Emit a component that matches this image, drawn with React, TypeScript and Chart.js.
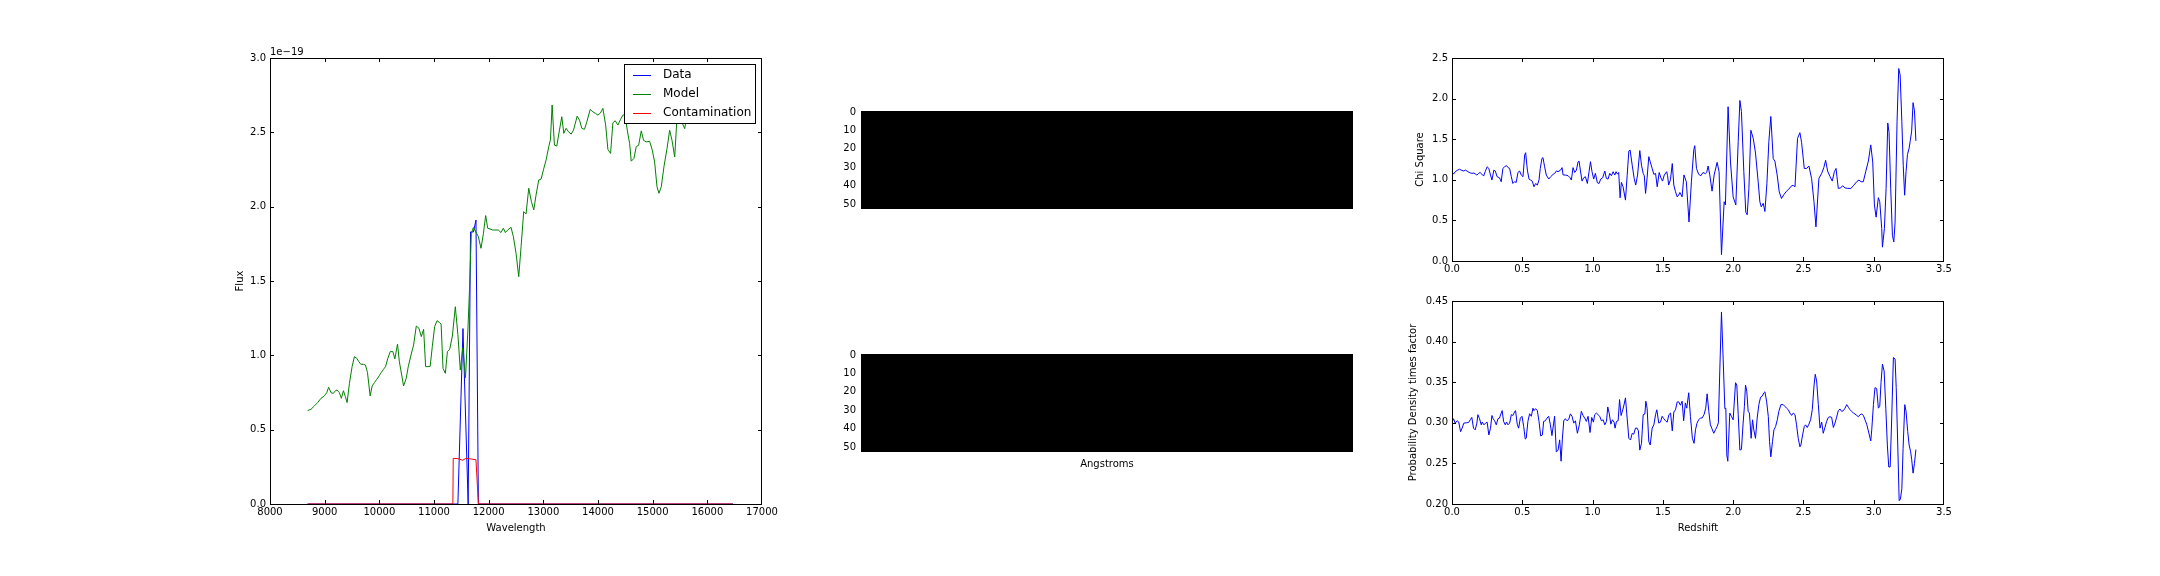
import React, { useEffect, useRef } from 'react';
import { Chart, registerables } from 'chart.js';

Chart.register(...registerables);

const FONT = "'DejaVu Sans', 'Liberation Sans', sans-serif";

// ---------------- Spectrum (left panel), flux in units of 1e-19 ----------------
const fluxOffsetLabel = '1e\u221219';
const wavelengthTicks = [8000, 9000, 10000, 11000, 12000, 13000, 14000, 15000, 16000, 17000];
const fluxTicks = [0, 0.5, 1.0, 1.5, 2.0, 2.5, 3.0];

const modelWavelength = [
  8688, 8749, 8810, 8872, 8933, 8994, 9037, 9073, 9116, 9159, 9196, 9226, 9269, 9306, 9343, 9379, 9410, 9453,
  9502, 9544, 9587, 9624, 9661, 9709, 9746, 9783, 9832, 9869, 9911, 9954, 9997, 10034, 10076, 10113, 10156,
  10199, 10248, 10284, 10333, 10365, 10409, 10443, 10492, 10529, 10584, 10627, 10676, 10725, 10768, 10810,
  10847, 10890, 10930, 10969, 11012, 11055, 11104, 11130, 11165, 11208, 11245, 11287, 11336, 11390, 11437,
  11481, 11526, 11576, 11620, 11652, 11683, 11721, 11765, 11810, 11860, 11904, 11945, 11982, 12024, 12073,
  12134, 12177, 12226, 12269, 12305, 12348, 12409, 12452, 12501, 12550, 12593, 12641, 12684, 12733, 12782,
  12825, 12867, 12916, 12959, 13002, 13051, 13100, 13130, 13161, 13203, 13246, 13295, 13338, 13374, 13417,
  13460, 13509, 13552, 13619, 13662, 13704, 13753, 13796, 13857, 13906, 13955, 13998, 14045, 14089, 14140,
  14181, 14230, 14272, 14315, 14364, 14413, 14456, 14495, 14535, 14578, 14608, 14657, 14700, 14743, 14792,
  14834, 14883, 14944, 14993, 15036, 15079, 15115, 15158, 15207, 15262, 15311, 15354, 15403, 15445, 15494,
  15555, 15586, 15640, 15690, 15740, 15790, 15840, 15890, 15940, 15990, 16040, 16090, 16140, 16190, 16240,
  16290, 16340, 16390, 16440, 16470,
];
const modelFlux = [
  0.628, 0.637, 0.659, 0.682, 0.711, 0.727, 0.749, 0.785, 0.749, 0.744, 0.762, 0.767, 0.749, 0.711, 0.762,
  0.722, 0.682, 0.812, 0.924, 0.991, 0.980, 0.958, 0.940, 0.940, 0.935, 0.884, 0.727, 0.794, 0.817, 0.839,
  0.862, 0.884, 0.906, 0.924, 0.980, 1.025, 1.025, 0.976, 1.076, 0.960, 0.868, 0.794, 0.845, 0.924, 1.009,
  1.069, 1.197, 1.182, 1.126, 1.175, 0.924, 0.924, 0.926, 1.059, 1.193, 1.233, 1.220, 1.210, 0.912, 0.879,
  1.025, 1.040, 1.130, 1.327, 1.140, 0.901, 1.050, 0.850, 1.170, 1.470, 1.820, 1.860, 1.830, 1.800, 1.720,
  1.820, 1.940, 1.855, 1.850, 1.843, 1.843, 1.843, 1.826, 1.855, 1.826, 1.843, 1.861, 1.798, 1.686, 1.529,
  1.731, 1.967, 1.951, 2.124, 2.034, 1.978, 2.079, 2.180, 2.185, 2.248, 2.315, 2.405, 2.450, 2.684, 2.414,
  2.408, 2.515, 2.605, 2.493, 2.527, 2.504, 2.488, 2.515, 2.609, 2.582, 2.527, 2.520, 2.571, 2.654, 2.638,
  2.627, 2.616, 2.630, 2.661, 2.550, 2.385, 2.358, 2.564, 2.578, 2.549, 2.587, 2.616, 2.620, 2.515, 2.426,
  2.306, 2.324, 2.405, 2.412, 2.510, 2.446, 2.435, 2.440, 2.380, 2.300, 2.134, 2.090, 2.134, 2.270, 2.390,
  2.514, 2.446, 2.334, 2.600, 2.620, 2.550, 2.525, 2.640, 2.600, 2.680, 2.660, 2.720, 2.630, 2.660, 2.700,
  2.620, 2.670, 2.740, 2.690, 2.640, 2.710, 2.680, 2.730, 2.660, 2.700,
];

const dataWavelength = [8688, 11437, 11530, 11625, 11668, 11721, 11745, 11768, 11812, 16470];
const dataFlux = [0, 0, 1.18, 0, 1.83, 1.83, 1.87, 1.91, 0, 0];

const contamWavelength = [8688, 11345, 11352, 11437, 11526, 11580, 11676, 11768, 11812, 16470];
const contamFlux = [0, 0, 0.307, 0.305, 0.294, 0.307, 0.303, 0.298, 0, 0];

// ---------------- Middle panels: two all-zero images ----------------
const imageRows = 53;
const imageRowTicks = [0, 10, 20, 30, 40, 50];

// ---------------- Chi square vs redshift ----------------
const redshiftTicks = [0, 0.5, 1.0, 1.5, 2.0, 2.5, 3.0, 3.5];
const chiTicks = [0, 0.5, 1.0, 1.5, 2.0, 2.5];
const chiRedshift = [
  0.000, 0.011, 0.023, 0.037, 0.053, 0.070, 0.084, 0.096, 0.113, 0.127, 0.141, 0.156, 0.167, 0.177, 0.189,
  0.200, 0.212, 0.225, 0.236, 0.250, 0.262, 0.274, 0.284, 0.298, 0.308, 0.321, 0.338, 0.350, 0.362, 0.374,
  0.388, 0.399, 0.410, 0.422, 0.433, 0.445, 0.457, 0.469, 0.481, 0.493, 0.505, 0.517, 0.524, 0.536, 0.548,
  0.559, 0.571, 0.583, 0.595, 0.607, 0.619, 0.628, 0.640, 0.647, 0.659, 0.671, 0.688, 0.702, 0.719, 0.731,
  0.743, 0.754, 0.773, 0.783, 0.790, 0.809, 0.826, 0.840, 0.849, 0.861, 0.873, 0.885, 0.897, 0.904, 0.913,
  0.925, 0.937, 0.949, 0.963, 0.975, 0.985, 0.996, 1.008, 1.020, 1.034, 1.046, 1.058, 1.072, 1.087, 1.098,
  1.110, 1.122, 1.134, 1.146, 1.158, 1.167, 1.177, 1.186, 1.196, 1.205, 1.217, 1.234, 1.246, 1.258, 1.267,
  1.282, 1.296, 1.307, 1.320, 1.336, 1.348, 1.360, 1.368, 1.377, 1.388, 1.400, 1.410, 1.424, 1.436, 1.448,
  1.460, 1.474, 1.486, 1.498, 1.510, 1.527, 1.534, 1.541, 1.554, 1.567, 1.578, 1.590, 1.602, 1.612, 1.621,
  1.637, 1.650, 1.667, 1.686, 1.703, 1.720, 1.727, 1.739, 1.755, 1.770, 1.786, 1.803, 1.812, 1.822, 1.834,
  1.850, 1.865, 1.886, 1.900, 1.917, 1.936, 1.945, 1.964, 1.981, 2.000, 2.019, 2.036, 2.048, 2.059, 2.076,
  2.090, 2.100, 2.112, 2.126, 2.143, 2.159, 2.178, 2.190, 2.200, 2.214, 2.226, 2.240, 2.254, 2.268, 2.285,
  2.297, 2.313, 2.328, 2.344, 2.362, 2.380, 2.404, 2.416, 2.428, 2.440, 2.458, 2.475, 2.487, 2.506, 2.523,
  2.539, 2.558, 2.575, 2.589, 2.610, 2.630, 2.645, 2.658, 2.672, 2.689, 2.705, 2.720, 2.732, 2.748, 2.765,
  2.779, 2.796, 2.815, 2.838, 2.855, 2.879, 2.895, 2.910, 2.926, 2.943, 2.962, 2.979, 2.993, 3.005, 3.017,
  3.033, 3.043, 3.057, 3.062, 3.076, 3.088, 3.100, 3.109, 3.121, 3.133, 3.143, 3.152, 3.166, 3.178, 3.188,
  3.200, 3.210, 3.220, 3.230, 3.240, 3.252, 3.260, 3.270, 3.280, 3.290, 3.300,
];
const chiSquare = [
  1.100, 1.070, 1.100, 1.116, 1.130, 1.116, 1.108, 1.120, 1.100, 1.087, 1.079, 1.083, 1.070, 1.058, 1.079,
  1.090, 1.070, 1.046, 1.100, 1.160, 1.140, 1.058, 0.997, 1.120, 1.108, 1.038, 1.025, 0.976, 1.140, 1.160,
  1.174, 1.150, 1.140, 1.038, 0.955, 0.976, 0.968, 1.090, 1.108, 1.058, 1.038, 1.306, 1.334, 1.120, 1.009,
  0.997, 0.984, 0.914, 0.955, 0.935, 0.997, 1.140, 1.264, 1.273, 1.160, 1.058, 1.009, 1.038, 1.067, 1.079,
  1.110, 1.100, 1.120, 1.150, 1.060, 1.058, 1.050, 1.025, 0.997, 1.150, 1.090, 1.120, 1.223, 1.230, 1.120,
  0.984, 1.025, 1.038, 0.955, 1.100, 1.223, 1.100, 1.009, 1.079, 0.964, 0.955, 1.009, 1.025, 1.108, 1.017,
  1.009, 1.079, 1.050, 1.100, 1.058, 1.100, 1.070, 1.090, 0.778, 0.968, 0.914, 0.750, 1.050, 1.355, 1.367,
  1.180, 1.017, 0.935, 1.058, 1.360, 1.180, 1.079, 1.050, 0.832, 1.025, 1.285, 1.223, 1.140, 1.067, 1.079,
  0.914, 1.090, 1.025, 0.984, 1.058, 1.100, 1.050, 0.935, 1.000, 1.200, 0.935, 0.853, 0.790, 0.810, 0.844,
  0.790, 1.060, 0.976, 0.480, 0.976, 1.370, 1.420, 1.140, 1.067, 1.050, 1.090, 1.075, 1.090, 1.170, 1.060,
  0.860, 1.060, 1.215, 1.100, 0.078, 0.730, 0.690, 1.900, 1.220, 0.790, 0.690, 1.470, 1.977, 1.840, 1.100,
  0.600, 0.570, 0.890, 1.610, 1.510, 1.330, 0.976, 0.730, 0.667, 0.710, 0.610, 0.950, 1.470, 1.780, 1.260,
  1.230, 1.060, 0.850, 0.770, 0.820, 0.860, 0.900, 0.927, 0.930, 0.914, 1.510, 1.580, 1.460, 1.140, 1.140,
  1.170, 1.017, 0.730, 0.420, 1.017, 1.080, 1.150, 1.240, 1.108, 1.040, 0.984, 1.100, 1.140, 0.894, 0.900,
  0.927, 0.900, 0.894, 0.894, 0.927, 0.976, 0.997, 0.976, 0.976, 1.100, 1.230, 1.430, 1.220, 0.690, 0.540,
  0.780, 0.730, 0.400, 0.170, 0.400, 0.890, 1.700, 1.585, 0.890, 0.317, 0.235, 0.480, 1.720, 2.370, 2.290,
  1.720, 1.180, 0.810, 1.100, 1.310, 1.390, 1.480, 1.600, 1.950, 1.850, 1.480,
];

// ---------------- Probability density vs redshift ----------------
const pdfTicks = [0.20, 0.25, 0.30, 0.35, 0.40, 0.45];
const pdfRedshift = [
  0.000, 0.011, 0.023, 0.037, 0.048, 0.061, 0.072, 0.084, 0.101, 0.118, 0.130, 0.141, 0.153, 0.165, 0.177,
  0.184, 0.196, 0.208, 0.215, 0.227, 0.239, 0.250, 0.262, 0.274, 0.284, 0.293, 0.303, 0.315, 0.327, 0.338,
  0.350, 0.357, 0.367, 0.379, 0.388, 0.398, 0.410, 0.422, 0.433, 0.445, 0.452, 0.464, 0.474, 0.486, 0.498,
  0.510, 0.521, 0.528, 0.540, 0.552, 0.564, 0.576, 0.583, 0.595, 0.607, 0.619, 0.631, 0.643, 0.652, 0.664,
  0.676, 0.688, 0.700, 0.711, 0.723, 0.730, 0.742, 0.754, 0.766, 0.776, 0.785, 0.795, 0.806, 0.818, 0.830,
  0.842, 0.854, 0.866, 0.878, 0.892, 0.906, 0.920, 0.932, 0.944, 0.956, 0.968, 0.982, 0.994, 1.006, 1.015,
  1.027, 1.039, 1.051, 1.063, 1.075, 1.087, 1.099, 1.108, 1.118, 1.130, 1.141, 1.153, 1.160, 1.170, 1.182,
  1.192, 1.203, 1.215, 1.225, 1.234, 1.246, 1.258, 1.270, 1.282, 1.293, 1.305, 1.317, 1.326, 1.336, 1.348,
  1.360, 1.372, 1.379, 1.388, 1.400, 1.410, 1.424, 1.436, 1.448, 1.457, 1.471, 1.483, 1.495, 1.507, 1.519,
  1.531, 1.543, 1.555, 1.567, 1.578, 1.590, 1.602, 1.613, 1.625, 1.637, 1.648, 1.660, 1.670, 1.684, 1.696,
  1.710, 1.722, 1.732, 1.743, 1.755, 1.767, 1.780, 1.793, 1.805, 1.815, 1.827, 1.838, 1.850, 1.862, 1.874,
  1.886, 1.895, 1.905, 1.917, 1.929, 1.941, 1.948, 1.955, 1.962, 1.976, 1.988, 2.000, 2.017, 2.026, 2.036,
  2.048, 2.059, 2.071, 2.080, 2.088, 2.097, 2.107, 2.116, 2.128, 2.138, 2.147, 2.159, 2.171, 2.183, 2.195,
  2.207, 2.219, 2.226, 2.238, 2.250, 2.259, 2.268, 2.280, 2.290, 2.302, 2.314, 2.325, 2.340, 2.356, 2.368,
  2.380, 2.392, 2.404, 2.416, 2.428, 2.440, 2.451, 2.463, 2.475, 2.482, 2.494, 2.506, 2.515, 2.527, 2.539,
  2.551, 2.563, 2.575, 2.584, 2.594, 2.606, 2.618, 2.630, 2.641, 2.653, 2.665, 2.677, 2.689, 2.701, 2.713,
  2.722, 2.735, 2.748, 2.760, 2.772, 2.784, 2.796, 2.808, 2.820, 2.831, 2.843, 2.855, 2.867, 2.879, 2.891,
  2.903, 2.915, 2.927, 2.938, 2.950, 2.962, 2.979, 2.986, 2.998, 3.009, 3.021, 3.033, 3.043, 3.052, 3.062,
  3.074, 3.086, 3.097, 3.107, 3.117, 3.128, 3.140, 3.152, 3.160, 3.171, 3.181, 3.190, 3.200, 3.209, 3.221,
  3.230, 3.242, 3.252, 3.262, 3.270, 3.280, 3.290, 3.300,
];
const pdfValue = [
  0.3008, 0.3050, 0.2996, 0.3025, 0.3010, 0.2890, 0.2934, 0.2996, 0.3000, 0.3004, 0.3037, 0.3066, 0.2934,
  0.2913, 0.2996, 0.3100, 0.3050, 0.2975, 0.3010, 0.2975, 0.2996, 0.3008, 0.2850, 0.2934, 0.3090, 0.3050,
  0.3025, 0.2975, 0.3050, 0.3058, 0.3120, 0.3150, 0.3017, 0.2975, 0.3010, 0.2975, 0.2996, 0.3100, 0.3090,
  0.3133, 0.3150, 0.2983, 0.2934, 0.3058, 0.3080, 0.2954, 0.2800, 0.2810, 0.3017, 0.3112, 0.3080, 0.3180,
  0.3150, 0.3174, 0.3150, 0.3017, 0.2838, 0.2850, 0.3017, 0.3025, 0.3058, 0.3080, 0.2975, 0.2842, 0.2996,
  0.3080, 0.2643, 0.2660, 0.2790, 0.2527, 0.2800, 0.3025, 0.3050, 0.3025, 0.3040, 0.3110, 0.3080, 0.2996,
  0.3025, 0.2871, 0.2975, 0.3141, 0.3091, 0.3058, 0.3017, 0.3080, 0.2880, 0.3066, 0.3008, 0.3100, 0.3120,
  0.3100, 0.3080, 0.3025, 0.3037, 0.2975, 0.3017, 0.3195, 0.3120, 0.2983, 0.3037, 0.3008, 0.2934, 0.3017,
  0.3025, 0.3286, 0.3090, 0.3160, 0.3232, 0.3307, 0.3058, 0.2809, 0.2788, 0.2871, 0.2859, 0.2934, 0.2934,
  0.2900, 0.2664, 0.2747, 0.3100, 0.3108, 0.3266, 0.3180, 0.2768, 0.2726, 0.2934, 0.2975, 0.3100, 0.3160,
  0.2996, 0.3008, 0.3080, 0.3050, 0.3025, 0.3008, 0.3100, 0.3120, 0.2900, 0.3133, 0.3160, 0.3257, 0.3257,
  0.3216, 0.3266, 0.3025, 0.3245, 0.3180, 0.3370, 0.3079, 0.2809, 0.2747, 0.2913, 0.2996, 0.3037, 0.3058,
  0.3060, 0.3100, 0.3180, 0.3357, 0.3141, 0.2975, 0.2925, 0.2871, 0.2913, 0.2954, 0.3000, 0.3639, 0.4365,
  0.3784, 0.3174, 0.3180, 0.2602, 0.2527, 0.3120, 0.3079, 0.3037, 0.3494, 0.3465, 0.3100, 0.2664, 0.2672,
  0.2996, 0.3200, 0.3465, 0.3390, 0.3141, 0.3120, 0.2809, 0.3037, 0.2913, 0.2809, 0.3058, 0.3224, 0.3315,
  0.3328, 0.3370, 0.3382, 0.3266, 0.3079, 0.2768, 0.2581, 0.2768, 0.2913, 0.2954, 0.3037, 0.3141, 0.3224,
  0.3224, 0.3203, 0.3180, 0.3162, 0.3120, 0.3091, 0.3120, 0.3100, 0.2975, 0.2809, 0.2705, 0.2726, 0.2851,
  0.2954, 0.2975, 0.2942, 0.2983, 0.3037, 0.3162, 0.3452, 0.3597, 0.3515, 0.3224, 0.2934, 0.3008, 0.2871,
  0.2942, 0.3017, 0.3066, 0.3075, 0.3066, 0.2942, 0.2983, 0.3060, 0.3149, 0.3170, 0.3141, 0.3149, 0.3180,
  0.3224, 0.3191, 0.3162, 0.3141, 0.3120, 0.3108, 0.3091, 0.3075, 0.3100, 0.3108, 0.3090, 0.3037, 0.2983,
  0.2900, 0.2776, 0.2913, 0.3224, 0.3432, 0.3423, 0.3180, 0.3203, 0.3494, 0.3722, 0.3639, 0.3180, 0.2726,
  0.2456, 0.2456, 0.3058, 0.3805, 0.3784, 0.3432, 0.2726, 0.2041, 0.2062, 0.2187, 0.2685, 0.3224, 0.3141,
  0.2892, 0.2726, 0.2650, 0.2550, 0.2380, 0.2500, 0.2670,
];

// ---------------- helpers ----------------
const xy = (xs: number[], ys: number[]) => xs.map((x, i) => ({ x, y: ys[i] }));
const tickFont = { family: FONT, size: 10 };
const titleFont = { family: FONT, size: 10 };

const mplFrame = {
  id: 'mplFrame',
  afterDatasetsDraw(chart: any) {
    const { ctx, chartArea: a } = chart;
    const xs = chart.scales.x;
    const ys = chart.scales.y;
    const clampX = (p: number) => Math.min(Math.max(p, a.left + 0.5), a.right - 0.5);
    const clampY = (p: number) => Math.min(Math.max(p, a.top + 0.5), a.bottom + 0.5);
    ctx.save();
    ctx.strokeStyle = '#000';
    ctx.lineWidth = 1;
    ctx.beginPath();
    for (const t of xs.ticks) {
      const p = clampX(Math.round(xs.getPixelForValue(t.value)) + 0.5);
      ctx.moveTo(p, a.bottom);
      ctx.lineTo(p, a.bottom - 4);
      ctx.moveTo(p, a.top);
      ctx.lineTo(p, a.top + 4);
    }
    for (const t of ys.ticks) {
      const p = clampY(Math.round(ys.getPixelForValue(t.value)) + 0.5);
      ctx.moveTo(a.left, p);
      ctx.lineTo(a.left + 4, p);
      ctx.moveTo(a.right, p);
      ctx.lineTo(a.right - 4, p);
    }
    ctx.stroke();
    ctx.strokeRect(a.left + 0.5, a.top + 0.5, a.right - a.left - 1, a.bottom - a.top);
    ctx.restore();
  },
};

const offsetText = {
  id: 'offsetText',
  afterDraw(chart: any) {
    const { ctx, chartArea: a } = chart;
    ctx.save();
    ctx.font = `10px ${FONT}`;
    ctx.fillStyle = '#000';
    ctx.textAlign = 'left';
    ctx.textBaseline = 'alphabetic';
    ctx.fillText(fluxOffsetLabel, a.left, a.top - 3);
    ctx.restore();
  },
};

const boxLegend = {
  id: 'boxLegend',
  afterDraw(chart: any) {
    const { ctx, chartArea: a } = chart;
    const bw = 132;
    const bh = 60;
    const bx = Math.round(a.right - 138);
    const by = Math.round(a.top + 6);
    ctx.save();
    ctx.fillStyle = '#fff';
    ctx.fillRect(bx, by, bw, bh);
    ctx.strokeStyle = '#000';
    ctx.lineWidth = 1;
    ctx.strokeRect(bx + 0.5, by + 0.5, bw - 1, bh - 1);
    ctx.font = `12px ${FONT}`;
    ctx.textAlign = 'left';
    ctx.textBaseline = 'middle';
    chart.data.datasets.forEach((ds: any, i: number) => {
      const y = by + 10.5 + i * 19;
      ctx.strokeStyle = ds.borderColor;
      ctx.beginPath();
      ctx.moveTo(bx + 9, Math.round(y) + 0.5);
      ctx.lineTo(bx + 27, Math.round(y) + 0.5);
      ctx.stroke();
      ctx.fillStyle = '#000';
      ctx.fillText(ds.label, bx + 39, y + 0.5);
    });
    ctx.restore();
  },
};

function linearAxis(min: number, max: number, ticks: number[], digits: number, fixed: any) {
  return {
    type: 'linear',
    min,
    max,
    afterBuildTicks: (s: any) => {
      s.ticks = ticks.map((v) => ({ value: v }));
    },
    ticks: {
      autoSkip: false,
      maxRotation: 0,
      color: '#000',
      font: tickFont,
      padding: fixed.padding,
      callback: (v: any) => (digits < 0 ? String(v) : Number(v).toFixed(digits)),
    },
    grid: { display: false, drawTicks: false },
    border: { display: false },
    title: {
      display: !!fixed.title,
      text: fixed.title || '',
      color: '#000',
      font: titleFont,
      padding: fixed.titlePadding,
    },
    afterFit: (s: any) => {
      if (fixed.width !== undefined) s.width = fixed.width;
      if (fixed.height !== undefined) s.height = fixed.height;
    },
  };
}

const commonOptions = {
  animation: false,
  responsive: false,
  events: [],
  elements: { point: { radius: 0 }, line: { borderWidth: 1, tension: 0, fill: false } },
};

function spectrumConfig() {
  return {
    type: 'line',
    data: {
      datasets: [
        { label: 'Data', data: xy(dataWavelength, dataFlux), borderColor: '#0000ff', order: 3 },
        { label: 'Model', data: xy(modelWavelength, modelFlux), borderColor: '#008000', order: 2 },
        { label: 'Contamination', data: xy(contamWavelength, contamFlux), borderColor: '#ff0000', order: 1 },
      ],
    },
    options: {
      ...commonOptions,
      layout: { padding: { left: 0, top: 18, right: 30, bottom: 0 } },
      plugins: { legend: { display: false }, tooltip: { enabled: false } },
      scales: {
        x: linearAxis(8000, 17000, wavelengthTicks, -1, { padding: 2, height: 36, title: 'Wavelength', titlePadding: { top: 0, bottom: 6 } }),
        y: linearAxis(0, 3, fluxTicks, 1, { padding: 4, width: 38, title: 'Flux', titlePadding: { top: 2, bottom: 0 } }),
      },
    },
    plugins: [mplFrame, offsetText, boxLegend],
  };
}

function imageConfig(showLabel: boolean) {
  return {
    type: 'bar',
    data: {
      labels: ['image'],
      datasets: [
        {
          data: [[-0.5, imageRows - 0.5]],
          backgroundColor: '#000000',
          borderWidth: 0,
          barPercentage: 1,
          categoryPercentage: 1,
        },
      ],
    },
    options: {
      ...commonOptions,
      layout: { padding: { left: 0, top: 10, right: 26, bottom: showLabel ? 0 : 11 } },
      plugins: { legend: { display: false }, tooltip: { enabled: false } },
      scales: {
        x: {
          display: showLabel,
          ticks: { display: false },
          grid: { display: false, drawTicks: false },
          border: { display: false },
          title: { display: showLabel, text: 'Angstroms', color: '#000', font: titleFont, padding: { top: 0, bottom: 8 } },
          afterFit: (s: any) => {
            s.height = showLabel ? 26 : 0;
          },
        },
        y: {
          type: 'linear',
          reverse: true,
          min: -0.5,
          max: imageRows - 0.5,
          afterBuildTicks: (s: any) => {
            s.ticks = imageRowTicks.map((v) => ({ value: v }));
          },
          ticks: { color: '#000', font: tickFont, padding: 5, callback: (v: any) => String(v) },
          grid: { display: false, drawTicks: false },
          border: { display: false },
          afterFit: (s: any) => {
            s.width = 42;
          },
        },
      },
    },
  };
}

function chiConfig() {
  return {
    type: 'line',
    data: { datasets: [{ label: 'Chi Square', data: xy(chiRedshift, chiSquare), borderColor: '#0000ff' }] },
    options: {
      ...commonOptions,
      layout: { padding: { left: 12, top: 18, right: 26, bottom: 0 } },
      plugins: { legend: { display: false }, tooltip: { enabled: false } },
      scales: {
        x: linearAxis(0, 3.5, redshiftTicks, 1, { padding: 2, height: 19 }),
        y: linearAxis(0, 2.5, chiTicks, 1, { padding: 4, width: 40, title: 'Chi Square', titlePadding: { top: 2, bottom: 0 } }),
      },
    },
    plugins: [mplFrame],
  };
}

function pdfConfig() {
  return {
    type: 'line',
    data: { datasets: [{ label: 'Probability', data: xy(pdfRedshift, pdfValue), borderColor: '#0000ff' }] },
    options: {
      ...commonOptions,
      layout: { padding: { left: 5, top: 11, right: 26, bottom: 0 } },
      plugins: { legend: { display: false }, tooltip: { enabled: false } },
      scales: {
        x: linearAxis(0, 3.5, redshiftTicks, 1, { padding: 2, height: 36, title: 'Redshift', titlePadding: { top: 0, bottom: 6 } }),
        y: linearAxis(0.2, 0.45, pdfTicks, 2, { padding: 4, width: 47, title: 'Probability Density times factor', titlePadding: { top: 2, bottom: 0 } }),
      },
    },
    plugins: [mplFrame],
  };
}

function ChartBox(props: { left: number; top: number; width: number; height: number; make: () => any }) {
  const ref = useRef<HTMLCanvasElement | null>(null);
  useEffect(() => {
    if (!ref.current) return;
    const chart = new Chart(ref.current, props.make());
    return () => chart.destroy();
  }, []);
  const { left, top, width, height } = props;
  return (
    <div style={{ position: 'absolute', left, top, width, height }}>
      <canvas ref={ref} width={width} height={height} style={{ width, height, display: 'block' }} />
    </div>
  );
}

export default function App() {
  return (
    <div style={{ position: 'absolute', left: 0, top: 0, width: 2160, height: 576, background: '#ffffff', overflow: 'hidden' }}>
      <ChartBox left={232} top={40} width={560} height={500} make={spectrumConfig} />
      <ChartBox left={819} top={100} width={560} height={120} make={() => imageConfig(false)} />
      <ChartBox left={819} top={343} width={560} height={135} make={() => imageConfig(true)} />
      <ChartBox left={1400} top={40} width={570} height={240} make={chiConfig} />
      <ChartBox left={1400} top={290} width={570} height={250} make={pdfConfig} />
    </div>
  );
}
